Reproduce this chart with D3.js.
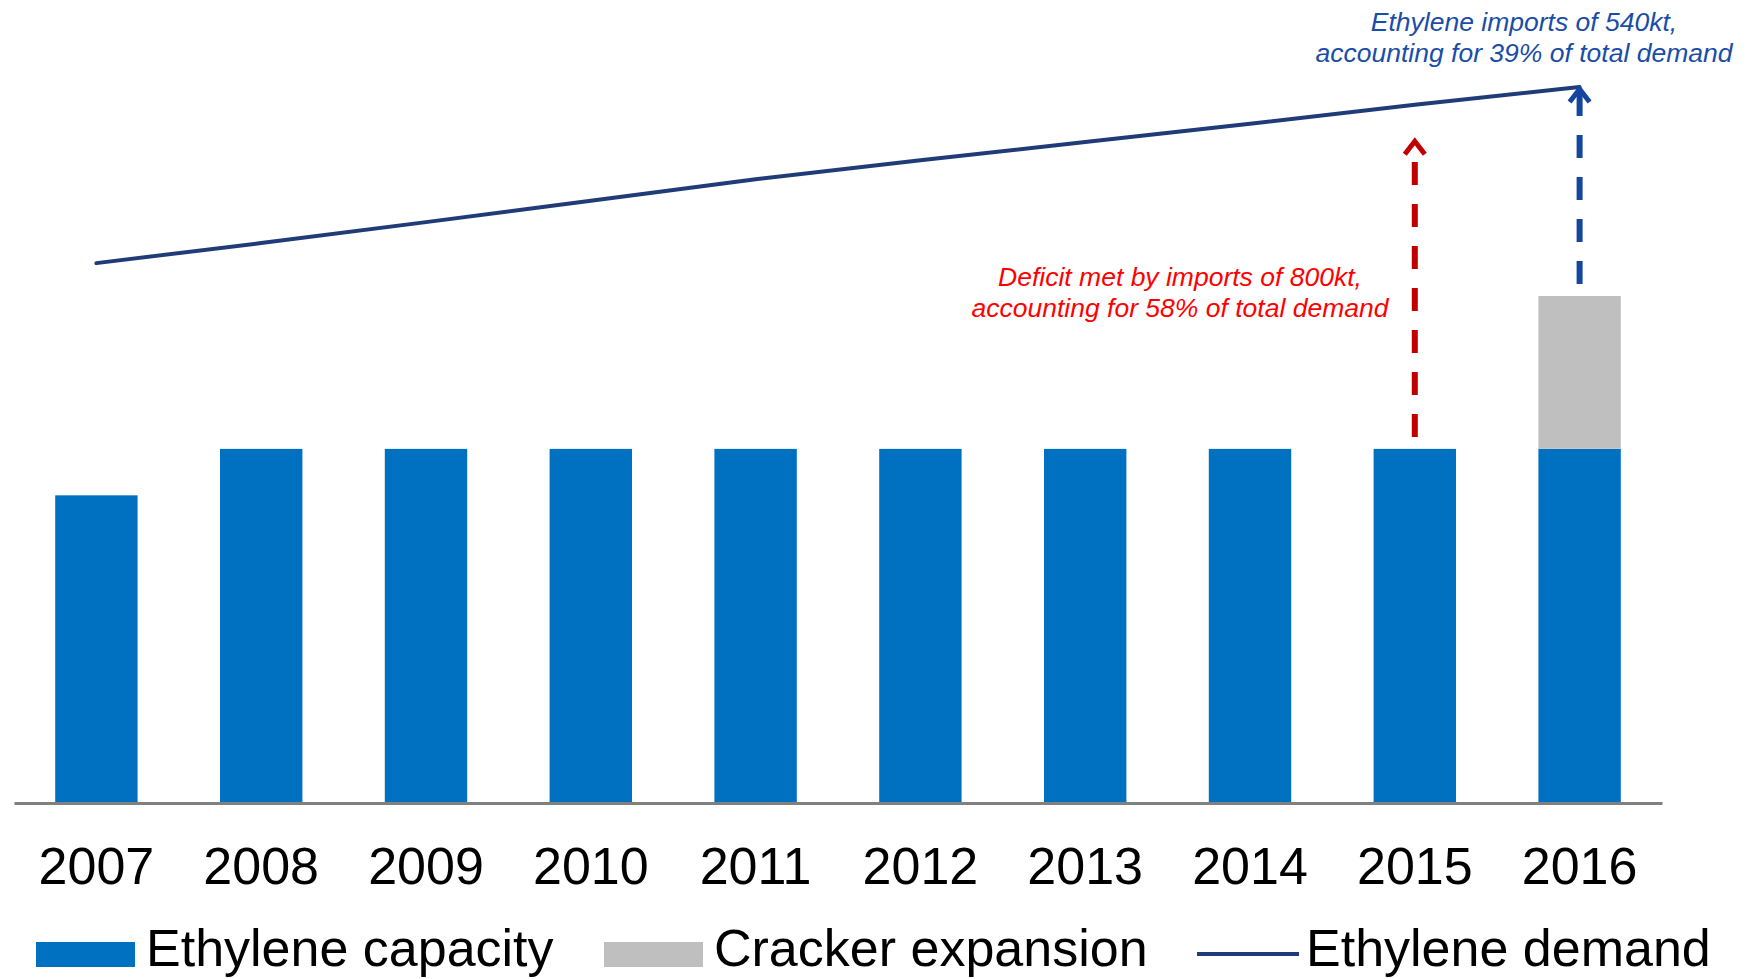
<!DOCTYPE html>
<html>
<head>
<meta charset="utf-8">
<script src="https://cdn.jsdelivr.net/npm/d3@7"></script>
<style>
  html, body { margin: 0; padding: 0; background: #ffffff; }
  svg { display: block; font-family: "Liberation Sans", Arial, sans-serif; }
</style>
</head>
<body>
<svg id="chart" width="1753" height="979"></svg>
<script>
// Ethylene supply vs demand, kt per year
const years = ["2007", "2008", "2009", "2010", "2011", "2012", "2013", "2014", "2015", "2016"];
const capacity = [795, 915, 915, 915, 915, 915, 915, 915, 915, 915];
const crackerExpansion = [0, 0, 0, 0, 0, 0, 0, 0, 0, 395];
const demand = [1395, 1447, 1501, 1556, 1612, 1661, 1708, 1755, 1804, 1850];

// Import gaps shown as arrows from supply up towards demand
const importYears = ["2015", "2016"];
const importValues = [800, 540];
const importColors = ["#C00000", "#1446A0"];

const redNote = ["Deficit met by imports of 800kt,", "accounting for 58% of total demand"];
const blueNote = ["Ethylene imports of 540kt,", "accounting for 39% of total demand"];

const legendLabels = ["Ethylene capacity", "Cracker expansion", "Ethylene demand"];

const colors = { capacity: "#0070C0", expansion: "#BFBFBF", demand: "#1F3C78" };

const svg = d3.select("#chart");

const x = d3.scaleBand()
  .domain(years)
  .range([14, 1662])
  .paddingInner(0.5)
  .paddingOuter(0.25);

const y = d3.scaleLinear()
  .domain([0, 2000])
  .range([803, 29]);

const cx = yr => x(yr) + x.bandwidth() / 2;

// Capacity bars
svg.append("g")
  .selectAll("rect")
  .data(years)
  .join("rect")
  .attr("x", d => x(d))
  .attr("width", x.bandwidth())
  .attr("y", (d, i) => y(capacity[i]))
  .attr("height", (d, i) => y(0) - y(capacity[i]))
  .attr("fill", colors.capacity);

// Cracker expansion stacked on top of capacity
svg.append("g")
  .selectAll("rect")
  .data(years.filter((d, i) => crackerExpansion[i] > 0))
  .join("rect")
  .attr("x", d => x(d))
  .attr("width", x.bandwidth())
  .attr("y", d => { const i = years.indexOf(d); return y(capacity[i] + crackerExpansion[i]); })
  .attr("height", d => { const i = years.indexOf(d); return y(capacity[i]) - y(capacity[i] + crackerExpansion[i]); })
  .attr("fill", colors.expansion);

// Baseline axis with year labels
const axis = svg.append("g")
  .attr("transform", `translate(0,${y(0)})`)
  .call(d3.axisBottom(x).tickSize(0).tickSizeOuter(0));
axis.select(".domain")
  .attr("stroke", "#808080")
  .attr("stroke-width", 3);
axis.selectAll(".tick text")
  .attr("y", 81)
  .attr("dy", 0)
  .attr("fill", "#000")
  .style("font-family", "'Liberation Sans', Arial, sans-serif")
  .style("font-size", "52px");

// Demand line
svg.append("path")
  .datum(demand)
  .attr("fill", "none")
  .attr("stroke", colors.demand)
  .attr("stroke-width", 4)
  .attr("stroke-linecap", "round")
  .attr("d", d3.line().x((d, i) => cx(years[i])).y(d => y(d)));

// Import arrows: dashed shaft from supply top, open chevron head at supply + imports
importYears.forEach((yr, k) => {
  const i = years.indexOf(yr);
  const base = capacity[i] + crackerExpansion[i];
  const xPos = cx(yr);
  const y0 = y(base) - 12;
  const y1 = y(base + importValues[k]);
  const g = svg.append("g").attr("stroke", importColors[k]).attr("fill", "none");
  g.append("line")
    .attr("x1", xPos).attr("x2", xPos)
    .attr("y1", y0).attr("y2", y1 + 4)
    .attr("stroke-width", 6)
    .attr("stroke-dasharray", "23 19");
  g.append("path")
    .attr("d", `M${xPos - 10},${y1 + 15}L${xPos},${y1 + 2}L${xPos + 10},${y1 + 15}`)
    .attr("stroke-width", 5)
    .attr("stroke-linejoin", "miter");
});

// Annotations
function note(lines, xc, baseline, color) {
  svg.append("text")
    .attr("text-anchor", "middle")
    .attr("font-style", "italic")
    .attr("font-size", 26.5)
    .attr("fill", color)
    .selectAll("tspan")
    .data(lines)
    .join("tspan")
    .attr("x", xc)
    .attr("y", (d, i) => baseline + i * 31)
    .text(d => d);
}
note(redNote, 1180, 286, "#FF0000");
note(blueNote, 1524, 31, "#1A4DA8");

// Legend
const legend = svg.append("g").attr("font-size", 52).attr("fill", "#000");
const legendItems = [
  { kind: "rect", color: colors.capacity, x: 36, tx: 146 },
  { kind: "rect", color: colors.expansion, x: 604, tx: 714 },
  { kind: "line", color: colors.demand, x: 1197, tx: 1306 }
];
legendItems.forEach((it, i) => {
  if (it.kind === "rect") {
    legend.append("rect")
      .attr("x", it.x).attr("y", 942)
      .attr("width", 99).attr("height", 25)
      .attr("fill", it.color);
  } else {
    legend.append("line")
      .attr("x1", it.x).attr("x2", it.x + 102)
      .attr("y1", 954).attr("y2", 954)
      .attr("stroke", it.color).attr("stroke-width", 4);
  }
  legend.append("text")
    .attr("x", it.tx).attr("y", 966)
    .text(legendLabels[i]);
});
</script>
</body>
</html>
